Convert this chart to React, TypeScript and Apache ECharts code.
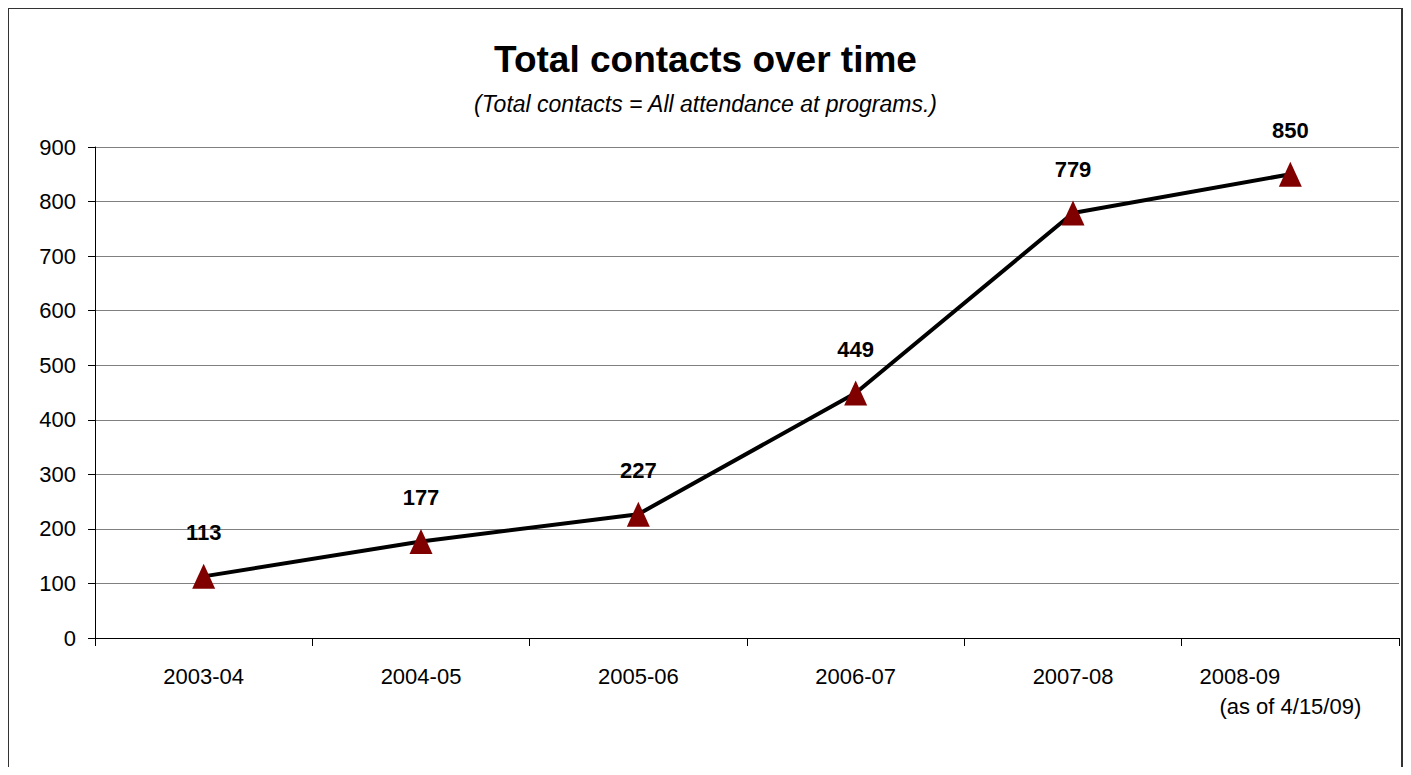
import React, { useEffect, useRef } from "react";
import * as echarts from "echarts";

const categories = ["2003-04", "2004-05", "2005-06", "2006-07", "2007-08", "2008-09"];
const categoryNotes = ["", "", "", "", "", "(as of 4/15/09)"];
const contacts = [113, 177, 227, 449, 779, 850];
const yTicks = { min: 0, max: 900, interval: 100 };
const titleText = "Total contacts over time";
const subtitleText = "(Total contacts = All attendance at programs.)";

const FONT = "'Liberation Sans', Arial, sans-serif";

export default function App() {
  const ref = useRef<HTMLDivElement>(null);
  useEffect(() => {
    if (!ref.current) return;
    const chart = echarts.init(ref.current, null, { renderer: "svg" });
    chart.setOption({
      animation: false,
      backgroundColor: "#fff",
      title: [
        {
          text: titleText,
          left: "center",
          top: 28,
          textStyle: { fontFamily: FONT, fontSize: 37, fontWeight: "bold", color: "#000" },
        },
        {
          text: subtitleText,
          left: "center",
          top: 79,
          textStyle: { fontFamily: FONT, fontSize: 23, fontStyle: "italic", fontWeight: "normal", color: "#000" },
        },
      ],
      graphic: [
        {
          type: "rect",
          silent: true,
          shape: { x: 0, y: 0, width: 1394, height: 1000 },
          style: { fill: "none", stroke: "#333", lineWidth: 2 },
        },
      ],
      grid: { left: 87, top: 139, right: 4, bottom: 129, containLabel: false },
      xAxis: {
        type: "category",
        data: categories,
        boundaryGap: true,
        axisLine: { show: true, lineStyle: { color: "#000", width: 1 } },
        axisTick: { show: true, length: 8, lineStyle: { color: "#000" } },
        axisLabel: {
          interval: 0,
          margin: 23,
          fontFamily: FONT,
          fontSize: 22,
          lineHeight: 30,
          color: "#000",
          formatter: (v: string, i: number) =>
            categoryNotes[i] ? `{a|${v}}\n{b|${categoryNotes[i]}}` : v,
          rich: {
            a: { fontFamily: FONT, fontSize: 22, lineHeight: 30, color: "#000", padding: [0, 101, 0, 0] },
            b: { fontFamily: FONT, fontSize: 22, lineHeight: 30, color: "#000" },
          },
        },
        splitLine: { show: false },
      },
      yAxis: {
        type: "value",
        min: yTicks.min,
        max: yTicks.max,
        interval: yTicks.interval,
        axisLine: { show: true, lineStyle: { color: "#000", width: 1 } },
        axisTick: { show: true, length: 7, lineStyle: { color: "#000" } },
        axisLabel: { margin: 19, fontFamily: FONT, fontSize: 22, color: "#000" },
        splitLine: { show: true, lineStyle: { color: "#808080", width: 1 } },
      },
      series: [
        {
          type: "line",
          data: contacts,
          symbol: "triangle",
          symbolSize: [23, 25],
          showAllSymbol: true,
          lineStyle: { color: "#000", width: 4 },
          itemStyle: { color: "#800000" },
          z: 3,
          label: {
            show: true,
            position: "top",
            distance: 20,
            fontFamily: FONT,
            fontSize: 22,
            fontWeight: "bold",
            color: "#000",
          },
        },
      ],
    });
    return () => chart.dispose();
  }, []);
  return <div ref={ref} style={{ width: 1395, height: 759 }} />;
}
